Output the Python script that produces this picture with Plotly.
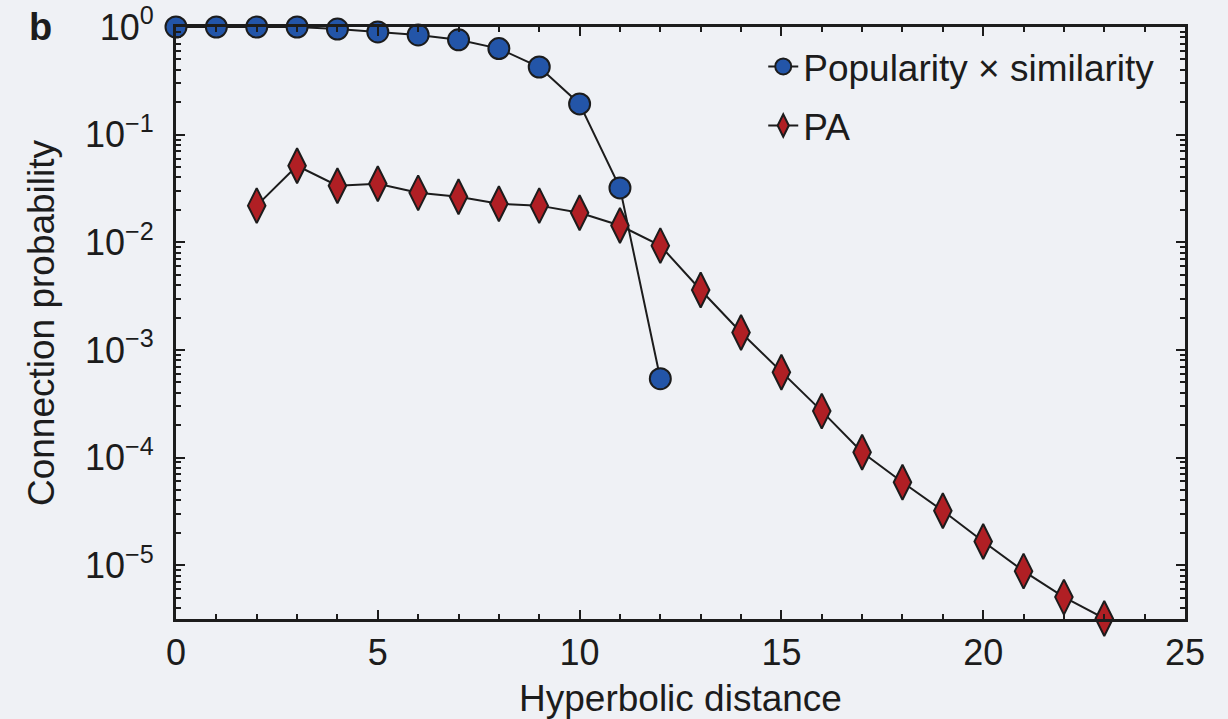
import plotly.graph_objects as go

# Connection probability versus hyperbolic distance
ps_distance = [0, 1, 2, 3, 4, 5, 6, 7, 8, 9, 10, 11, 12]
ps_prob = [1.0, 1.0, 1.0, 1.0, 0.958, 0.90, 0.843, 0.76, 0.63, 0.425, 0.193, 0.032, 5.4e-4]

pa_distance = [2, 3, 4, 5, 6, 7, 8, 9, 10, 11, 12, 13, 14, 15, 16, 17, 18, 19, 20, 21, 22, 23]
pa_prob = [0.0219, 0.0514, 0.0335, 0.035, 0.0288, 0.0265, 0.0228, 0.0219, 0.0188, 0.0143,
           0.0093, 0.0036, 1.45e-3, 6.2e-4, 2.7e-4, 1.12e-4, 5.9e-5, 3.2e-5, 1.66e-5,
           8.8e-6, 5.05e-6, 3.2e-6]

y_tick_vals = [1, 1e-1, 1e-2, 1e-3, 1e-4, 1e-5]
y_tick_text = ["10<sup>0</sup>", "10<sup>\u22121</sup>", "10<sup>\u22122</sup>",
               "10<sup>\u22123</sup>", "10<sup>\u22124</sup>", "10<sup>\u22125</sup>"]
x_tick_vals = [0, 5, 10, 15, 20, 25]

FONT = "Liberation Sans, Arial, Helvetica, sans-serif"
INK = "#1c1c1c"
BG = "#eff1f5"

fig = go.Figure()
fig.add_trace(go.Scatter(
    x=ps_distance, y=ps_prob, mode="lines+markers",
    name="Popularity \u00d7 similarity", legendgroup="a",
    line=dict(color=INK, width=2),
    marker=dict(symbol="circle", size=21, color="#2355a8", line=dict(color=INK, width=2)),
    cliponaxis=False,
))
fig.add_trace(go.Scatter(
    x=pa_distance, y=pa_prob, mode="lines+markers",
    name="PA", legendgroup="b",
    line=dict(color=INK, width=2),
    marker=dict(symbol="diamond-tall", size=25, color="#b01f24", line=dict(color=INK, width=2)),
    cliponaxis=False,
))

axis_common = dict(
    showline=True, linecolor=INK, linewidth=3, mirror="ticks",
    ticks="inside", tickcolor=INK, tickwidth=2, ticklen=9,
    showgrid=False, zeroline=False, automargin=False,
    tickfont=dict(family=FONT, size=36, color=INK),
)

fig.update_xaxes(
    range=[0, 25], tickvals=x_tick_vals,
    minor=dict(dtick=1, ticks="inside", ticklen=5, tickwidth=2, tickcolor=INK, showgrid=False),
    title=dict(text="Hyperbolic distance", font=dict(family=FONT, size=37, color=INK), standoff=18),
    **axis_common,
)
fig.update_yaxes(
    type="log", range=[-5.5, 0], tickvals=y_tick_vals, ticktext=y_tick_text,
    ticklabelstandoff=12,
    minor=dict(dtick="D1", ticks="inside", ticklen=5, tickwidth=2, tickcolor=INK, showgrid=False),
    title=dict(text="Connection probability", font=dict(family=FONT, size=37, color=INK), standoff=20),
    **axis_common,
)

fig.add_annotation(
    text="<b>b</b>", xref="paper", yref="paper", x=-0.148, y=1.0,
    xanchor="left", yanchor="middle", showarrow=False,
    font=dict(family=FONT, size=38, color=INK),
)

fig.update_layout(
    width=1228, height=719,
    margin=dict(l=176, r=43, t=27, b=100, autoexpand=False),
    paper_bgcolor=BG, plot_bgcolor=BG,
    showlegend=True,
    legend=dict(
        x=0.582, y=0.985, xanchor="left", yanchor="top",
        bgcolor="rgba(0,0,0,0)", tracegroupgap=8,
        font=dict(family=FONT, size=37, color=INK),
        itemwidth=30,
    ),
)

fig.write_html("out.html")
